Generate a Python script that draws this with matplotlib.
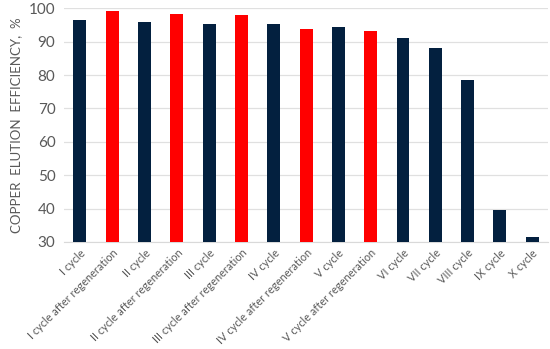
import numpy as np
import matplotlib.pyplot as plt

plt.rcParams['font.family'] = ['Lato', 'DejaVu Sans']

labels = ["I cycle", "I cycle after regeneration", "II cycle", "II cycle after regeneration",
          "III cycle", "III cycle after regeneration", "IV cycle", "IV cycle after regeneration",
          "V cycle", "V cycle after regeneration", "VI cycle", "VII cycle", "VIII cycle",
          "IX cycle", "X cycle"]
values = [96.4, 99.2, 95.8, 98.4, 95.3, 98.1, 95.3, 93.9, 94.4, 93.2, 91.0, 88.0, 78.4, 39.5, 31.6]
regen = [False, True, False, True, False, True, False, True, False, True, False, False, False, False, False]

navy = "#03203f"
red = "#ff0000"
grey = "#595959"
colors = [red if r else navy for r in regen]

fig = plt.figure(figsize=(5.5, 3.49), dpi=100)
ax = fig.add_axes([0.116, 0.307, 0.881, 0.669])

x = np.arange(len(labels))
ax.bar(x, values, width=0.4, color=colors, zorder=3)

ax.set_ylim(30, 100)
ax.set_xlim(-0.5, len(labels) - 0.5)
ax.set_yticks(np.arange(30, 101, 10))
ax.grid(axis='y', color='#e0e0e0', linewidth=0.9, zorder=0)
for s in ['top', 'right', 'left']:
    ax.spines[s].set_visible(False)
ax.spines['bottom'].set_color('#d9d9d9')
ax.tick_params(axis='both', length=0, colors=grey)
ax.tick_params(axis='y', labelsize=11, pad=6)
ax.tick_params(axis='x', pad=4)
ax.set_xticks(x)
ax.set_xticklabels(labels, rotation=45, ha='right', rotation_mode='anchor', fontsize=7.9)
ax.set_ylabel("COPPER  ELUTION  EFFICIENCY,  %", color=grey, fontsize=9.5, labelpad=5)

fig.savefig("out.png", dpi=100)
